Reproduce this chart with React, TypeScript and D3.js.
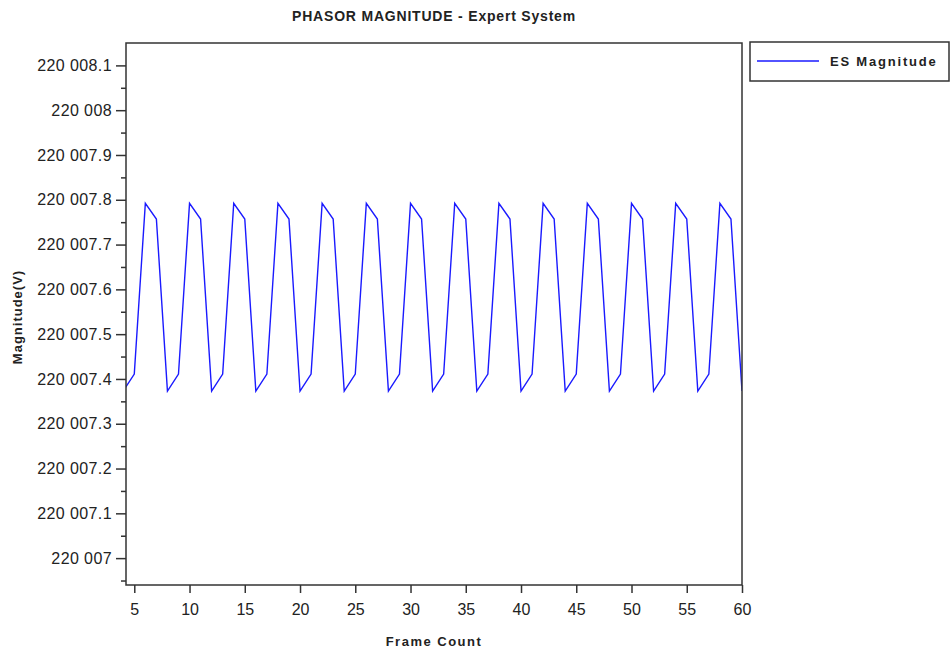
import React, { useEffect, useRef } from "react";
import * as d3 from "d3";

const frames = [
  4, 5, 6, 7, 8, 9, 10, 11, 12, 13, 14, 15, 16, 17, 18, 19, 20, 21, 22, 23, 24,
  25, 26, 27, 28, 29, 30, 31, 32, 33, 34, 35, 36, 37, 38, 39, 40, 41, 42, 43,
  44, 45, 46, 47, 48, 49, 50, 51, 52, 53, 54, 55, 56, 57, 58, 59, 60,
];

const esMagnitude = [
  220007.373,
  220007.411, 220007.792, 220007.757, 220007.373,
  220007.411, 220007.792, 220007.757, 220007.373,
  220007.411, 220007.792, 220007.757, 220007.373,
  220007.411, 220007.792, 220007.757, 220007.373,
  220007.411, 220007.792, 220007.757, 220007.373,
  220007.411, 220007.792, 220007.757, 220007.373,
  220007.411, 220007.792, 220007.757, 220007.373,
  220007.411, 220007.792, 220007.757, 220007.373,
  220007.411, 220007.792, 220007.757, 220007.373,
  220007.411, 220007.792, 220007.757, 220007.373,
  220007.411, 220007.792, 220007.757, 220007.373,
  220007.411, 220007.792, 220007.757, 220007.373,
  220007.411, 220007.792, 220007.757, 220007.373,
  220007.411, 220007.792, 220007.757, 220007.373,
];

const xTicks = [5, 10, 15, 20, 25, 30, 35, 40, 45, 50, 55, 60];
const yTicks = [
  220007.0, 220007.1, 220007.2, 220007.3, 220007.4, 220007.5, 220007.6,
  220007.7, 220007.8, 220007.9, 220008.0, 220008.1,
];
const yMinorTicks = [
  220006.95, 220007.05, 220007.15, 220007.25, 220007.35, 220007.45, 220007.55,
  220007.65, 220007.75, 220007.85, 220007.95, 220008.05,
];

const title = "PHASOR MAGNITUDE - Expert System";
const xLabel = "Frame Count";
const yLabel = "Magnitude(V)";
const seriesName = "ES Magnitude";

const FONT = "'Liberation Sans', Arial, sans-serif";
const AXIS = "#333";

const App = () => {
  const ref = useRef<SVGSVGElement>(null);

  useEffect(() => {
    const svg = d3.select(ref.current);
    svg.selectAll("*").remove();

    const width = 952;
    const height = 653;
    const margin = { top: 43, right: 210, bottom: 68, left: 126 };

    const x = d3
      .scaleLinear()
      .domain([4.25, 60])
      .range([margin.left, width - margin.right]);
    const y = d3
      .scaleLinear()
      .domain([220006.94, 220008.15])
      .range([height - margin.bottom, margin.top]);

    const locale = d3.formatLocale({
      decimal: ".",
      thousands: " ",
      grouping: [3],
      currency: ["", ""],
    });
    const yFmt = locale.format(",.1~f");

    // clip
    svg
      .append("clipPath")
      .attr("id", "plot-clip")
      .append("rect")
      .attr("x", margin.left)
      .attr("y", margin.top)
      .attr("width", width - margin.left - margin.right)
      .attr("height", height - margin.top - margin.bottom);

    // line
    const pts = frames.map((f, i) => [f, esMagnitude[i]] as [number, number]);
    const line = d3
      .line<[number, number]>()
      .x(d => x(d[0]))
      .y(d => y(d[1]));
    svg
      .append("path")
      .datum(pts)
      .attr("clip-path", "url(#plot-clip)")
      .attr("fill", "none")
      .attr("stroke", "#1a1aff")
      .attr("stroke-width", 1.4)
      .attr("d", line);

    // plot box
    svg
      .append("rect")
      .attr("x", margin.left)
      .attr("y", margin.top)
      .attr("width", width - margin.left - margin.right)
      .attr("height", height - margin.top - margin.bottom)
      .attr("fill", "none")
      .attr("stroke", AXIS)
      .attr("stroke-width", 1.5);

    // x axis
    svg
      .append("g")
      .attr("transform", `translate(0,${height - margin.bottom})`)
      .call(d3.axisBottom(x).tickValues(xTicks).tickSize(8).tickPadding(11))
      .call(g => g.select(".domain").remove())
      .call(g => g.selectAll("line").attr("stroke", AXIS).attr("stroke-width", 1.5))
      .call(g =>
        g
          .selectAll("text")
          .attr("fill", "#222")
          .attr("font-family", FONT)
          .attr("font-size", 16)
      );

    // y axis
    svg
      .append("g")
      .attr("transform", `translate(${margin.left},0)`)
      .call(d3.axisLeft(y).tickValues(yTicks).tickFormat(d => yFmt(d as number)).tickSize(10).tickPadding(4))
      .call(g => g.select(".domain").remove())
      .call(g => g.selectAll("line").attr("stroke", AXIS).attr("stroke-width", 1.5))
      .call(g =>
        g
          .selectAll("text")
          .attr("fill", "#222")
          .attr("font-family", FONT)
          .attr("font-size", 16)
          .attr("letter-spacing", 0.4)
      );

    svg
      .append("g")
      .attr("transform", `translate(${margin.left},0)`)
      .call(d3.axisLeft(y).tickValues(yMinorTicks).tickSize(5).tickFormat(() => ""))
      .call(g => g.select(".domain").remove())
      .call(g => g.selectAll("line").attr("stroke", AXIS).attr("stroke-width", 1.5));

    // title and labels
    svg
      .append("text")
      .attr("x", 434)
      .attr("y", 21)
      .attr("text-anchor", "middle")
      .attr("font-family", FONT)
      .attr("font-size", 14)
      .attr("font-weight", "bold")
      .attr("letter-spacing", 0.8)
      .attr("fill", "#222")
      .text(title);

    svg
      .append("text")
      .attr("x", 434)
      .attr("y", 646)
      .attr("text-anchor", "middle")
      .attr("font-family", FONT)
      .attr("font-size", 13)
      .attr("font-weight", "bold")
      .attr("letter-spacing", 1.5)
      .attr("fill", "#222")
      .text(xLabel);

    svg
      .append("text")
      .attr("transform", "translate(22,317) rotate(-90)")
      .attr("text-anchor", "middle")
      .attr("font-family", FONT)
      .attr("font-size", 13)
      .attr("font-weight", "bold")
      .attr("letter-spacing", 1)
      .attr("fill", "#222")
      .text(yLabel);

    // legend
    const lg = svg.append("g");
    lg.append("rect")
      .attr("x", 750)
      .attr("y", 42)
      .attr("width", 199)
      .attr("height", 39)
      .attr("fill", "white")
      .attr("stroke", AXIS)
      .attr("stroke-width", 1.5);
    lg.append("line")
      .attr("x1", 757)
      .attr("x2", 819)
      .attr("y1", 61)
      .attr("y2", 61)
      .attr("stroke", "#1a1aff")
      .attr("stroke-width", 1.4);
    lg.append("text")
      .attr("x", 830)
      .attr("y", 66)
      .attr("font-family", FONT)
      .attr("font-size", 13)
      .attr("font-weight", "bold")
      .attr("letter-spacing", 1.8)
      .attr("fill", "#222")
      .text(seriesName);
  }, []);

  return (
    <svg
      ref={ref}
      width={952}
      height={653}
      style={{ position: "absolute", left: 0, top: 0, background: "white" }}
    />
  );
};

export default App;
